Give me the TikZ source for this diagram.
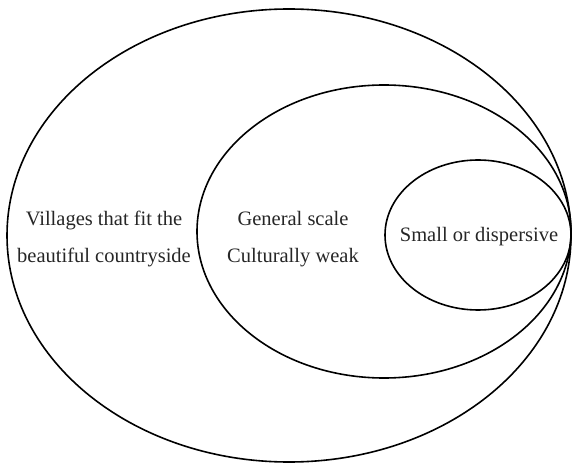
\documentclass[tikz,border=0pt]{standalone}
\usepackage{fontspec}
\setmainfont{Liberation Serif}
\begin{document}
\begin{tikzpicture}[x=1pt,y=-1pt,
  ring/.style={draw=black,line width=1.6pt},
  lbl/.style={font=\fontsize{20.5}{37}\selectfont,align=center,inner sep=0pt,text=black!85}]
\useasboundingbox (0,0) rectangle (573,465);
\draw[ring] (289,235.5) ellipse [x radius=282, y radius=226.5];
\draw[ring] (384,231.5) ellipse [x radius=187, y radius=146.5];
\draw[ring] (478,235) ellipse [x radius=93, y radius=75];
\node[lbl] (outer) at (104,239) {Villages that fit the\\beautiful countryside};
\node[lbl] (middle) at (293,239) {General scale\\Culturally weak};
\node[lbl] (inner) at (479,237) {Small or dispersive};
\end{tikzpicture}
\end{document}
